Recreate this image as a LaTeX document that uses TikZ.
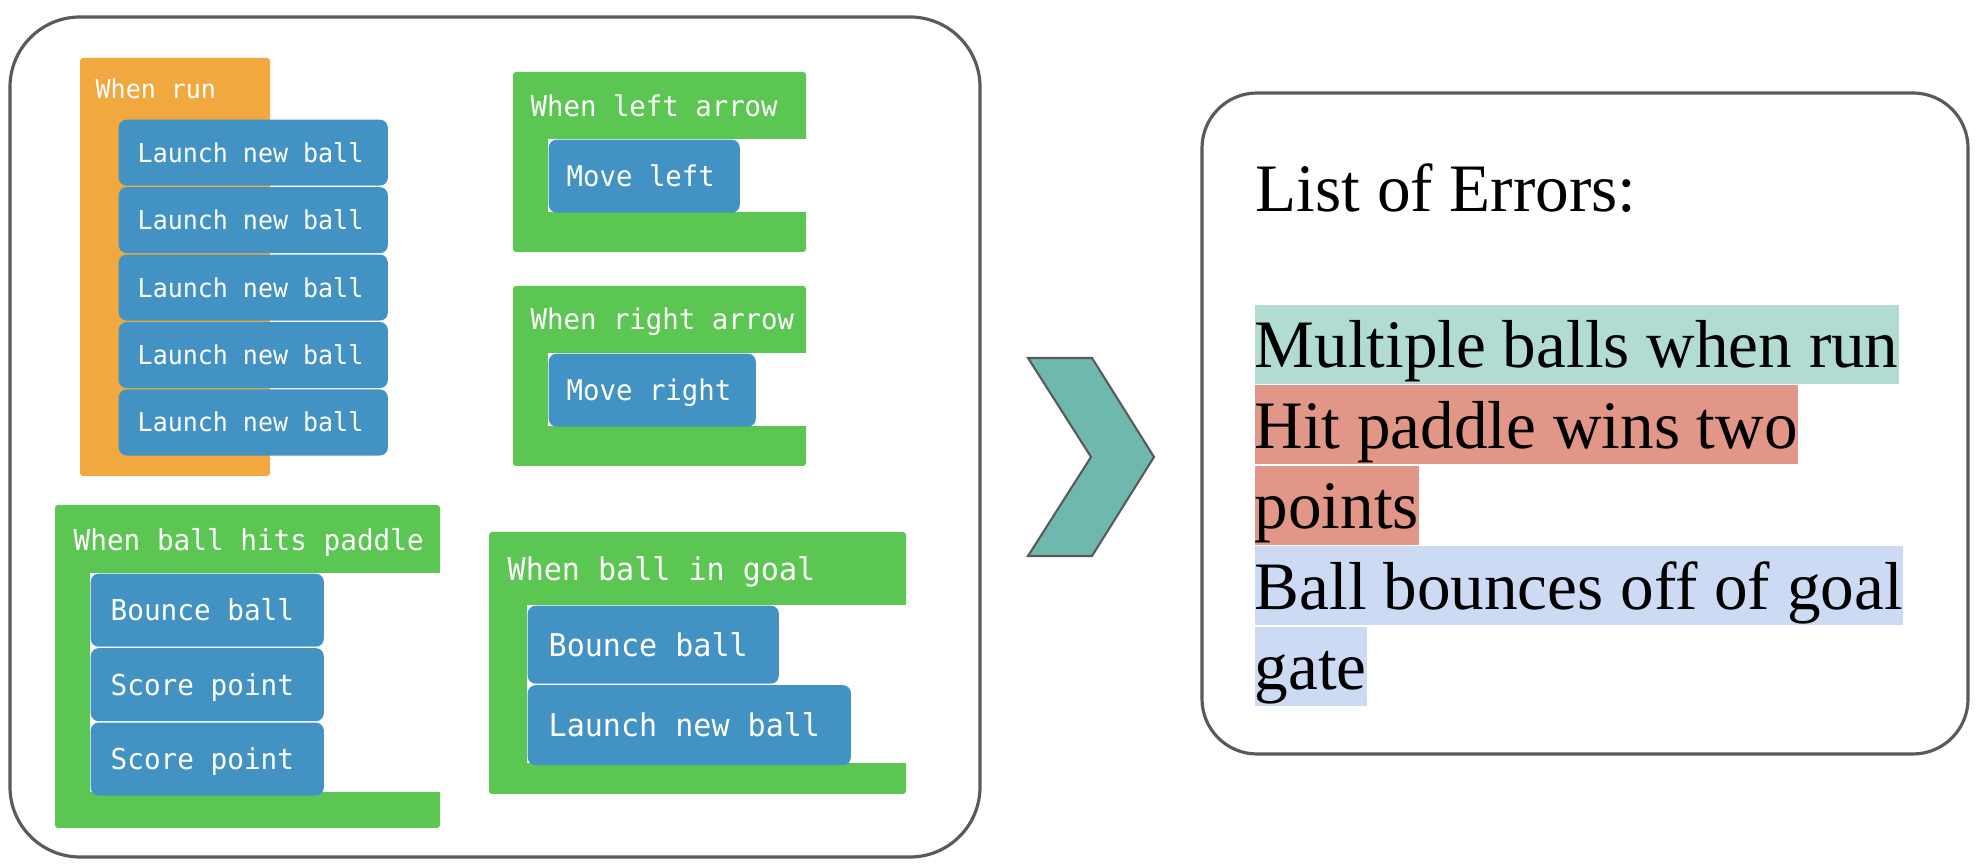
\documentclass[tikz,border=0pt]{standalone}
\usepackage{fontspec}
\setmainfont{Liberation Serif}[FakeStretch=0.99]
\setmonofont{DejaVu Sans Mono}[FakeStretch=0.96]
\usetikzlibrary{positioning}

\definecolor{blockblue}{RGB}{67,146,196}
\definecolor{hatgreen}{RGB}{92,198,82}
\definecolor{runorange}{RGB}{240,168,63}
\definecolor{panelgray}{RGB}{90,90,90}
\definecolor{chevteal}{RGB}{111,184,174}
\definecolor{errgreen}{RGB}{178,220,210}
\definecolor{errred}{RGB}{225,150,135}
\definecolor{errblue}{RGB}{204,218,244}

\newcommand{\blkfont}[1]{\fontsize{#1}{#1}\ttfamily}

\tikzset{
  panel/.style={draw=panelgray, line width=0.9pt},
  hat/.style={fill=hatgreen, rounded corners=0.03cm},
  hattitle/.style={anchor=base west, inner sep=0pt, text=white},
  block/.style={fill=blockblue, text=white, rounded corners=0.08cm, anchor=north west,
    align=flush left, inner ysep=0pt, text depth=0pt},
  runblk/.style={block, font=\blkfont{7.4}, minimum height=0.66cm, inner xsep=0.19cm,
    text width=2.31cm, text height=0.19cm},
  keyblk/.style={block, font=\blkfont{8.1}, minimum height=0.73cm, inner xsep=0.18cm,
    text height=0.207cm},
  padblk/.style={block, font=\blkfont{8.2}, minimum height=0.73cm, inner xsep=0.20cm,
    text width=1.93cm, text height=0.21cm},
  goalblk/.style={block, font=\blkfont{8.9}, inner xsep=0.21cm, text height=0.227cm},
  errline/.style={inner sep=0pt, text height=0.63cm, text depth=0.16cm,
    font=\fontsize{19.3}{23}\selectfont}
}

\begin{document}
\begin{tikzpicture}[x=0.01cm, y=-0.01cm]
  \useasboundingbox (0,0) rectangle (1976,868);

  % the two panels
  \draw[panel, rounded corners=0.7cm] (10,17) rectangle (980,857);
  \draw[panel, rounded corners=0.55cm] (1202,93) rectangle (1968,754);

  % event hats
  \fill[runorange, rounded corners=0.03cm] (80,58) rectangle (270,476);
  \fill[hat] (513,72) rectangle (806,252);
  \fill[white] (548,139) rectangle (807,212);
  \fill[hat] (513,286) rectangle (806,466);
  \fill[white] (548,353) rectangle (807,426);
  \fill[hat] (55,505) rectangle (440,828);
  \fill[white] (90,573) rectangle (441,792);
  \fill[hat] (489,532) rectangle (906,794);
  \fill[white] (527,605) rectangle (907,763);

  % when run
  \node[hattitle, font=\blkfont{7.4}] (runhat) at (95,99) {When run};
  \node[runblk] (run1) at (118,119) {Launch new ball};
  \node[runblk, below=0pt of run1] (run2) {Launch new ball};
  \node[runblk, below=0pt of run2] (run3) {Launch new ball};
  \node[runblk, below=0pt of run3] (run4) {Launch new ball};
  \node[runblk, below=0pt of run4] (run5) {Launch new ball};

  % arrow keys
  \node[hattitle, font=\blkfont{8.1}] (lefthat) at (530,117) {When left arrow};
  \node[keyblk, text width=1.55cm] (mvleft) at (548,139) {Move left};
  \node[hattitle, font=\blkfont{8.1}] (righthat) at (530,330) {When right arrow};
  \node[keyblk, text width=1.71cm] (mvright) at (548,353) {Move right};

  % paddle
  \node[hattitle, font=\blkfont{8.2}] (padhat) at (73,551) {When ball hits paddle};
  \node[padblk] (pad1) at (90,573) {Bounce ball};
  \node[padblk, below=0pt of pad1] (pad2) {Score point};
  \node[padblk, below=0pt of pad2] (pad3) {Score point};

  % goal
  \node[hattitle, font=\blkfont{8.9}] (goalhat) at (507,581) {When ball in goal};
  \node[goalblk, minimum height=0.78cm, text width=2.09cm] (goal1) at (527,605) {Bounce ball};
  \node[goalblk, minimum height=0.80cm, text width=2.81cm] (goal2) at (goal1.south west) {Launch new ball};

  % chevron
  \filldraw[fill=chevteal, draw=panelgray, line width=0.6pt]
    (1028,358) -- (1092,358) -- (1154,457) -- (1092,556) -- (1028,556) -- (1091,457) -- cycle;

  % list of errors
  \node[anchor=base west, inner sep=0pt, font=\fontsize{19.3}{23}\selectfont] (errhead) at (1255,212) {List of Errors:};
  \node[errline, fill=errgreen, anchor=base west] (err1) at (1254,368) {Multiple balls when run};
  \node[errline, fill=errred, anchor=north west] (err2) at (err1.south west) {Hit paddle wins two};
  \node[errline, fill=errred, anchor=north west] (err3) at (err2.south west) {points};
  \node[errline, fill=errblue, anchor=north west] (err4) at (err3.south west) {Ball bounces off of goal};
  \node[errline, fill=errblue, anchor=north west] (err5) at (err4.south west) {gate};
\end{tikzpicture}
\end{document}
